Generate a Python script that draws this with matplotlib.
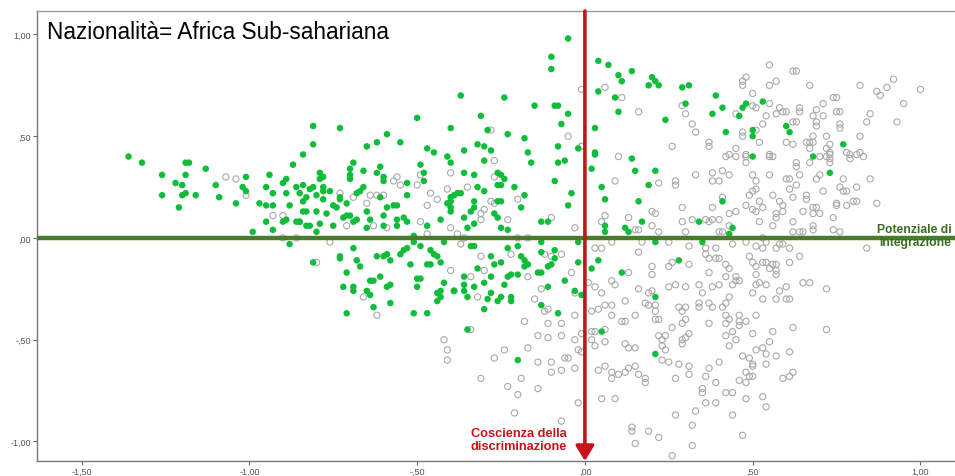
import numpy as np
import matplotlib
matplotlib.use("Agg")
import matplotlib.pyplot as plt
from matplotlib.ticker import FuncFormatter

plt.rcParams['font.family'] = ['Liberation Sans', 'DejaVu Sans']

title = "Nazionalità= Africa Sub-sahariana"
label_x = "Coscienza della\ndiscriminazione"
label_y = "Potenziale di\nIntegrazione"

x_ticks = [-1.5, -1.0, -0.5, 0.0, 0.5, 1.0]
y_ticks = [-1.0, -0.5, 0.0, 0.5, 1.0]

# punti verdi (Africa Sub-sahariana), sopra la linea
green_top = [
    (-1.36, 0.40), (-1.32, 0.37), (-1.19, 0.37), (-1.18, 0.37), (-1.26, 0.31), (-1.19, 0.31),
    (-1.13, 0.34), (-1.22, 0.27), (-1.20, 0.26), (-1.26, 0.21), (-1.20, 0.21), (-1.19, 0.22),
    (-1.16, 0.21), (-1.21, 0.15), (-1.10, 0.26), (-1.09, 0.20), (-1.01, 0.30), (-1.02, 0.25),
    (-1.01, 0.23), (-1.04, 0.17), (-0.97, 0.17), (-0.95, 0.16), (-0.93, 0.16), (-0.94, 0.31),
    (-0.95, 0.25), (-0.93, 0.22), (-0.90, 0.27), (-0.89, 0.29), (-0.87, 0.36), (-0.84, 0.41),
    (-0.89, 0.22), (-0.88, 0.16), (-0.86, 0.25), (-0.84, 0.26), (-0.85, 0.22), (-0.82, 0.24),
    (-0.83, 0.20), (-0.84, 0.18), (-0.84, 0.13), (-0.83, 0.13), (-0.95, 0.08), (-0.93, 0.04),
    (-0.90, 0.08), (-0.89, 0.09), (-0.86, 0.08), (-0.85, 0.08), (-0.83, 0.06), (-0.82, 0.06),
    (-0.99, 0.03), (-0.80, 0.21), (-0.80, 0.13), (-0.80, 0.03), (-0.81, 0.55), (-0.81, 0.46),
    (-0.05, 0.98), (-0.10, 0.89), (-0.10, 0.83), (-0.37, 0.70), (-0.24, 0.69), (-0.15, 0.65),
    (-0.09, 0.65), (-0.08, 0.65), (-0.05, 0.61), (-0.31, 0.60), (-0.50, 0.59), (-0.73, 0.54),
    (-0.40, 0.54), (-0.29, 0.53), (-0.07, 0.56), (-0.59, 0.51), (-0.62, 0.47), (-0.65, 0.45),
    (-0.55, 0.47), (-0.47, 0.44), (-0.45, 0.42), (-0.32, 0.46), (-0.30, 0.45), (-0.28, 0.43),
    (-0.23, 0.51), (-0.18, 0.49), (-0.17, 0.42), (-0.08, 0.45), (-0.02, 0.44), (-0.36, 0.43),
    (-0.41, 0.40), (0.04, 0.87), (0.07, 0.85), (0.10, 0.80), (0.04, 0.72), (0.09, 0.69),
    (0.10, 0.62), (0.03, 0.54), (0.03, 0.42), (0.11, 0.77), (0.14, 0.82), (0.20, 0.79),
    (0.21, 0.77), (0.22, 0.75), (0.19, 0.75), (0.29, 0.74), (0.31, 0.75), (0.30, 0.66),
    (0.24, 0.58), (0.39, 0.70), (0.41, 0.64), (0.38, 0.61), (0.42, 0.52), (0.47, 0.64),
    (0.48, 0.66), (0.46, 0.60), (0.53, 0.67), (0.50, 0.53), (0.50, 0.50), (0.50, 0.40),
    (0.60, 0.55), (0.61, 0.52), (0.77, 0.46), (0.68, 0.40), (0.14, 0.39), (0.15, 0.33),
    (0.21, 0.33), (0.19, 0.26), (0.16, 0.18), (0.17, 0.08), (0.12, 0.05), (0.13, 0.03),
    (0.34, 0.08), (0.41, 0.18), (0.44, 0.05), (0.43, 0.02), (0.73, 0.32),
    (-0.40, 0.37), (-0.30, 0.38), (-0.16, 0.37), (-0.08, 0.37), (-0.06, 0.38), (0.03, 0.41),
    (0.02, 0.34), (-0.69, 0.37), (-0.70, 0.34), (-0.61, 0.35), (-0.62, 0.32), (-0.66, 0.33),
    (-0.79, 0.32), (-0.49, 0.36), (-0.48, 0.32), (-0.36, 0.32), (-0.33, 0.31), (-0.26, 0.32),
    (-0.25, 0.31), (-0.24, 0.29), (-0.09, 0.28), (-0.79, 0.29), (-0.78, 0.30), (-0.81, 0.25),
    (-0.78, 0.25), (-0.78, 0.23), (-0.76, 0.23), (-0.78, 0.19), (-0.70, 0.31), (-0.70, 0.29),
    (-0.66, 0.25), (-0.67, 0.23), (-0.68, 0.22), (-0.60, 0.30), (-0.60, 0.28), (-0.61, 0.20),
    (-0.73, 0.20), (-0.73, 0.19), (-0.75, 0.16), (-0.74, 0.15), (-0.71, 0.17), (-0.53, 0.27),
    (-0.53, 0.21), (-0.48, 0.28), (-0.39, 0.21), (-0.38, 0.22), (-0.37, 0.22), (-0.40, 0.20),
    (-0.40, 0.18), (-0.41, 0.17), (-0.32, 0.25), (-0.30, 0.23), (-0.26, 0.26), (-0.25, 0.26),
    (-0.21, 0.25), (-0.18, 0.21), (-0.19, 0.15), (-0.33, 0.18), (-0.33, 0.15), (-0.26, 0.18),
    (-0.25, 0.18), (-0.43, 0.09), (-0.05, 0.16), (-0.04, 0.22), (0.05, 0.25), (0.06, 0.19),
    (-0.77, 0.12), (-0.85, 0.08), (-0.79, 0.07), (-0.75, 0.06), (-0.72, 0.10), (-0.71, 0.11),
    (-0.70, 0.11), (-0.68, 0.09), (-0.69, 0.08), (-0.65, 0.13), (-0.64, 0.09), (-0.65, 0.05),
    (-0.60, 0.11), (-0.60, 0.06), (-0.59, 0.15), (-0.56, 0.16), (-0.57, 0.16), (-0.56, 0.09),
    (-0.56, 0.06), (-0.54, 0.10), (-0.53, 0.08), (-0.47, 0.06), (-0.40, 0.15), (-0.40, 0.13),
    (-0.36, 0.10), (-0.35, 0.05), (-0.34, 0.13), (-0.33, 0.07), (-0.27, 0.12), (-0.26, 0.10),
    (-0.25, 0.05), (-0.23, 0.04), (-0.13, 0.08), (-0.11, 0.08), (0.06, 0.06), (0.06, 0.03),
    (-0.51, 0.01),
]

# punti verdi sotto la linea
green_bottom = [
    (-0.88, -0.03), (-0.81, -0.12), (0.21, -0.02), (0.35, -0.02), (0.28, -0.11), (0.11, -0.17),
    (0.21, -0.29), (0.21, -0.57), (0.05, -0.46), (-0.35, -0.45), (-0.20, -0.60),
    (-0.51, -0.02), (-0.42, -0.02), (-0.34, -0.04), (-0.33, -0.04), (-0.23, -0.05), (-0.20, -0.04),
    (-0.13, -0.02), (-0.09, -0.06), (-0.02, -0.02), (-0.73, -0.09), (-0.73, -0.10), (-0.69, -0.05),
    (-0.68, -0.11), (-0.67, -0.14), (-0.62, -0.09), (-0.59, -0.08), (-0.60, -0.09), (-0.58, -0.11),
    (-0.55, -0.08), (-0.54, -0.06), (-0.53, -0.05), (-0.52, -0.13), (-0.49, -0.04), (-0.46, -0.06),
    (-0.45, -0.08), (-0.44, -0.09), (-0.46, -0.13), (-0.47, -0.13), (-0.43, -0.12), (-0.32, -0.15),
    (-0.28, -0.09), (-0.27, -0.13), (-0.25, -0.12), (-0.19, -0.09), (-0.18, -0.11), (-0.17, -0.13),
    (-0.18, -0.14), (-0.13, -0.07), (-0.11, -0.14), (-0.10, -0.13), (-0.09, -0.10), (-0.02, -0.12),
    (0.02, -0.15), (0.04, -0.11), (-0.71, -0.17), (-0.72, -0.24), (-0.69, -0.24), (-0.69, -0.26),
    (-0.64, -0.21), (-0.63, -0.21), (-0.61, -0.19), (-0.65, -0.26), (-0.64, -0.28), (-0.59, -0.24),
    (-0.58, -0.23), (-0.63, -0.34), (-0.58, -0.32), (-0.71, -0.37), (-0.50, -0.20), (-0.49, -0.20),
    (-0.50, -0.24), (-0.44, -0.27), (-0.43, -0.26), (-0.42, -0.22), (-0.43, -0.29), (-0.44, -0.31),
    (-0.39, -0.26), (-0.36, -0.19), (-0.36, -0.23), (-0.36, -0.26), (-0.35, -0.29), (-0.33, -0.24),
    (-0.30, -0.22), (-0.28, -0.19), (-0.28, -0.27), (-0.29, -0.30), (-0.25, -0.29), (-0.26, -0.31),
    (-0.24, -0.23), (-0.23, -0.19), (-0.22, -0.18), (-0.22, -0.29), (-0.22, -0.31), (-0.20, -0.18),
    (-0.14, -0.17), (-0.13, -0.17), (-0.11, -0.24), (-0.06, -0.21), (-0.03, -0.26), (-0.01, -0.28),
    (-0.13, -0.33), (-0.08, -0.37), (-0.30, -0.35), (-0.51, -0.37), (-0.47, -0.37),
]

# cerchi grigi (altre nazionalità), parte alta
grey_top = [
    (-1.07, 0.30), (-1.04, 0.29), (-1.01, 0.21), (-0.93, 0.11), (-0.90, 0.11), (-0.90, 0.00),
    (-0.86, 0.00), (-0.01, 0.73), (0.06, 0.74), (-0.05, 0.50), (-0.28, 0.53), (-0.01, 0.45),
    (0.10, 0.40), (0.11, 0.69), (0.16, 0.62), (0.29, 0.65), (0.30, 0.61), (0.32, 0.56),
    (0.33, 0.52), (0.26, 0.45), (0.37, 0.47), (0.37, 0.45), (0.47, 0.77), (0.48, 0.79),
    (0.47, 0.75), (0.50, 0.71), (0.51, 0.64), (0.50, 0.65), (0.45, 0.61), (0.54, 0.60),
    (0.53, 0.56), (0.51, 0.53), (0.52, 0.47), (0.47, 0.52), (0.47, 0.50), (0.45, 0.44),
    (0.55, 0.85), (0.57, 0.77), (0.55, 0.75), (0.55, 0.66), (0.58, 0.64), (0.59, 0.62),
    (0.60, 0.62), (0.57, 0.61), (0.62, 0.82), (0.63, 0.82), (0.67, 0.75), (0.64, 0.64),
    (0.64, 0.62), (0.62, 0.57), (0.63, 0.57), (0.60, 0.47), (0.62, 0.46), (0.69, 0.63),
    (0.71, 0.66), (0.68, 0.60), (0.71, 0.60), (0.69, 0.57), (0.69, 0.55), (0.68, 0.50),
    (0.67, 0.47), (0.68, 0.47), (0.66, 0.47), (0.67, 0.44), (0.72, 0.50), (0.73, 0.46),
    (0.72, 0.44), (0.73, 0.42), (0.74, 0.69), (0.75, 0.69), (0.75, 0.62), (0.76, 0.62),
    (0.76, 0.56), (0.76, 0.54), (0.78, 0.42), (0.82, 0.75), (0.82, 0.50), (0.82, 0.42),
    (0.83, 0.40), (0.84, 0.57), (0.85, 0.61), (0.87, 0.72), (0.88, 0.70), (0.90, 0.74),
    (0.92, 0.78), (0.93, 0.57), (0.95, 0.66), (1.00, 0.73), (0.70, 0.40), (0.72, 0.40),
    (0.73, 0.41), (0.42, 0.40), (0.45, 0.40), (0.48, 0.40), (0.55, 0.40),
    (0.13, 0.10), (0.15, 0.04), (0.16, 0.04), (0.20, 0.13), (0.21, 0.12), (0.20, 0.06),
    (0.22, 0.03), (0.22, 0.27), (0.27, 0.28), (0.27, 0.26), (0.29, 0.15), (0.29, 0.08),
    (0.30, 0.03), (0.33, 0.31), (0.32, 0.09), (0.36, 0.09), (0.37, 0.08), (0.38, 0.32),
    (0.38, 0.28), (0.40, 0.28), (0.38, 0.15), (0.38, 0.09), (0.40, 0.09), (0.41, 0.33),
    (0.43, 0.31), (0.41, 0.20), (0.45, 0.13), (0.43, 0.12), (0.40, 0.03), (0.41, 0.03),
    (0.43, 0.06), (0.48, 0.41), (0.48, 0.37), (0.43, 0.41), (0.50, 0.31), (0.51, 0.28),
    (0.50, 0.23), (0.51, 0.24), (0.49, 0.21), (0.52, 0.18), (0.48, 0.16), (0.50, 0.14),
    (0.51, 0.13), (0.52, 0.08), (0.53, 0.00), (0.55, 0.31), (0.56, 0.21), (0.55, 0.41),
    (0.56, 0.40), (0.53, 0.15), (0.56, 0.06), (0.57, 0.12), (0.57, 0.10), (0.58, 0.18),
    (0.59, 0.16), (0.59, 0.13), (0.60, 0.29), (0.61, 0.29), (0.61, 0.24), (0.62, 0.20),
    (0.62, 0.08), (0.62, 0.03), (0.64, 0.03), (0.65, 0.03), (0.64, 0.31), (0.63, 0.37),
    (0.63, 0.35), (0.63, 0.26), (0.65, 0.13), (0.66, 0.21), (0.66, 0.19), (0.67, 0.37),
    (0.68, 0.15), (0.69, 0.15), (0.68, 0.12), (0.70, 0.12), (0.68, 0.06), (0.68, 0.04),
    (0.69, 0.29), (0.70, 0.31), (0.71, 0.23), (0.74, 0.10), (0.74, 0.04), (0.76, 0.03),
    (0.75, 0.17), (0.75, 0.16), (0.76, 0.25), (0.77, 0.23), (0.78, 0.23), (0.78, 0.16),
    (0.80, 0.18), (0.81, 0.18), (0.77, 0.29), (0.79, 0.39), (0.79, 0.41), (0.81, 0.41),
    (0.81, 0.25), (0.85, 0.29), (0.87, 0.17), (0.73, 0.39), (0.73, 0.37),
    (-0.27, 0.38), (-0.40, 0.32), (-0.27, 0.30), (-0.56, 0.30), (-0.57, 0.28), (-0.55, 0.26),
    (-0.64, 0.21), (-0.62, 0.21), (-0.60, 0.21), (-0.65, 0.17), (-0.73, 0.22), (-0.69, 0.20),
    (-0.50, 0.26), (-0.46, 0.22), (-0.49, 0.31), (-0.41, 0.24), (-0.35, 0.25), (-0.20, 0.19),
    (-0.28, 0.18), (-0.27, 0.17), (-0.47, 0.16), (-0.44, 0.19), (-0.71, 0.06), (-0.63, 0.06),
    (-0.59, 0.05), (-0.49, 0.08), (-0.31, 0.12), (-0.30, 0.14), (-0.31, 0.09), (-0.23, 0.09),
    (-0.10, 0.10), (-0.03, 0.05), (0.05, 0.08), (0.06, 0.11), (0.09, 0.28), (-0.40, 0.05),
    (-0.38, 0.02), (-0.36, 0.00), (-0.47, 0.02), (-0.20, 0.00), (-0.17, 0.00), (-0.01, 0.45),
]

# cerchi grigi, parte bassa
grey_bottom = [
    (-0.80, -0.12), (0.17, -0.02), (0.16, -0.07), (0.20, -0.14), (0.25, -0.02), (0.26, -0.12),
    (0.25, -0.14), (0.31, -0.04), (0.31, -0.13), (0.36, -0.05), (0.36, -0.08), (0.37, -0.10),
    (0.39, -0.05), (0.40, -0.10), (0.39, -0.10), (0.37, -0.17), (0.44, -0.03), (0.42, -0.13),
    (0.43, -0.15), (0.42, -0.19), (0.45, -0.19), (0.48, -0.02), (0.51, -0.04), (0.49, -0.09),
    (0.50, -0.12), (0.51, -0.14), (0.53, -0.05), (0.54, -0.02), (0.53, -0.12), (0.54, -0.12),
    (0.56, -0.13), (0.57, -0.13), (0.57, -0.16), (0.57, -0.18), (0.58, -0.03), (0.59, -0.03),
    (0.57, -0.05), (0.61, -0.05), (0.61, -0.12), (0.64, -0.09), (0.84, -0.05), (0.65, -0.22),
    (0.67, -0.22), (0.72, -0.25), (0.60, -0.24), (0.57, -0.30), (0.58, -0.26), (0.60, -0.30),
    (0.61, -0.30), (0.54, -0.23), (0.52, -0.22), (0.51, -0.23), (0.53, -0.30), (0.50, -0.27),
    (0.55, -0.15), (0.51, -0.18), (0.45, -0.21), (0.44, -0.23), (0.46, -0.21), (0.43, -0.29),
    (0.42, -0.32), (0.41, -0.34), (0.40, -0.23), (0.38, -0.24), (0.34, -0.23), (0.35, -0.27),
    (0.34, -0.32), (0.34, -0.34), (0.30, -0.24), (0.27, -0.23), (0.25, -0.24), (0.28, -0.34),
    (0.29, -0.36), (0.37, -0.32), (0.38, -0.34), (0.20, -0.18), (0.16, -0.25), (0.19, -0.27),
    (0.20, -0.26), (0.18, -0.32), (0.19, -0.33), (0.21, -0.33), (0.12, -0.31), (0.13, -0.17),
    (0.15, -0.38), (0.21, -0.36), (0.30, -0.34), (0.46, -0.38), (0.51, -0.38), (0.42, -0.38),
    (0.12, -0.41), (0.11, -0.41), (0.21, -0.40), (0.22, -0.40), (0.26, -0.44), (0.29, -0.42),
    (0.30, -0.40), (0.22, -0.48), (0.24, -0.48), (0.23, -0.50), (0.23, -0.53), (0.24, -0.55),
    (0.29, -0.50), (0.30, -0.49), (0.31, -0.47), (0.29, -0.52), (0.12, -0.52), (0.13, -0.54),
    (0.15, -0.54), (0.23, -0.60), (0.25, -0.61), (0.28, -0.62), (0.31, -0.63), (0.31, -0.67),
    (0.27, -0.69), (0.18, -0.69), (0.18, -0.71), (0.16, -0.67), (0.10, -0.67), (0.12, -0.66),
    (0.13, -0.64), (0.15, -0.63), (0.37, -0.42), (0.42, -0.42), (0.43, -0.40), (0.46, -0.41),
    (0.46, -0.43), (0.48, -0.41), (0.42, -0.48), (0.44, -0.46), (0.45, -0.50), (0.43, -0.53),
    (0.50, -0.47), (0.56, -0.46), (0.62, -0.44), (0.72, -0.45), (0.55, -0.51), (0.53, -0.54),
    (0.51, -0.55), (0.54, -0.57), (0.57, -0.58), (0.61, -0.56), (0.47, -0.58), (0.49, -0.59),
    (0.40, -0.61), (0.37, -0.64), (0.36, -0.68), (0.39, -0.71), (0.35, -0.74), (0.35, -0.76),
    (0.36, -0.81), (0.39, -0.81), (0.33, -0.85), (0.27, -0.87), (0.42, -0.76), (0.44, -0.76),
    (0.44, -0.87), (0.50, -0.62), (0.50, -0.63), (0.48, -0.66), (0.49, -0.68), (0.50, -0.68),
    (0.46, -0.70), (0.48, -0.71), (0.54, -0.62), (0.59, -0.69), (0.61, -0.68), (0.62, -0.66),
    (0.48, -0.79), (0.53, -0.78), (0.54, -0.83), (0.47, -0.97), (0.32, -0.92), (0.32, -1.02),
    (0.26, -1.07), (0.14, -0.93), (0.14, -0.95), (0.19, -0.95), (0.22, -0.98), (0.15, -1.01),
    (-0.34, -0.45), (-0.42, -0.50), (-0.41, -0.55), (-0.41, -0.60), (-0.31, -0.69), (-0.27, -0.59),
    (-0.24, -0.55), (-0.23, -0.73), (-0.20, -0.77), (-0.21, -0.86), (-0.19, -0.69), (-0.17, -0.54),
    (-0.18, -0.41), (-0.14, -0.48), (-0.11, -0.49), (-0.07, -0.48), (-0.11, -0.42), (-0.07, -0.42),
    (-0.14, -0.61), (-0.10, -0.61), (-0.10, -0.66), (-0.07, -0.65), (-0.14, -0.74), (-0.06, -0.59),
    (-0.05, -0.59), (-0.03, -0.50), (-0.02, -0.55), (-0.01, -0.56), (-0.03, -0.64), (-0.02, -0.81),
    (-0.07, -0.90), (-0.01, -0.47), (0.02, -0.46), (0.03, -0.46), (0.02, -0.50), (0.03, -0.53),
    (0.06, -0.45), (0.06, -0.51), (0.04, -0.65), (0.06, -0.63), (0.08, -0.66), (0.08, -0.69),
    (0.05, -0.79), (0.09, -0.79), (-0.76, -0.02), (-0.37, -0.03), (-0.31, -0.09), (-0.40, -0.16),
    (-0.30, -0.16), (-0.22, -0.08), (-0.12, -0.08), (-0.10, -0.09), (-0.07, -0.08), (0.03, -0.05),
    (0.05, -0.05), (0.08, -0.02), (-0.66, -0.29), (-0.62, -0.38), (-0.34, -0.19), (-0.32, -0.29),
    (-0.17, -0.19), (-0.15, -0.30), (-0.04, -0.17), (-0.11, -0.35), (-0.12, -0.36), (-0.03, -0.38),
    (0.02, -0.36), (0.04, -0.35), (0.06, -0.33), (0.08, -0.33), (0.08, -0.38), (0.01, -0.22),
    (0.03, -0.24), (0.08, -0.21), (0.09, -0.23), (0.05, -0.27), (-0.03, -0.27), (-0.39, -0.26),
    (-0.13, -0.25),
]


def fmt_tick(v, pos):
    s = f"{v:.2f}".replace('.', ',')
    if abs(v) < 1:
        s = s.replace('0,', ',', 1)
    return s


green = np.array(green_top + green_bottom)
grey = np.array(grey_top + grey_bottom)

fig = plt.figure(figsize=(9.55, 4.77), dpi=100)
ax = fig.add_axes([0.0387, 0.0314, 0.9613, 0.9434])

ax.scatter(grey[:, 0], grey[:, 1], s=20, facecolors='none', edgecolors='#a9a9a9',
           linewidths=0.8, zorder=2)
ax.scatter(green[:, 0], green[:, 1], s=22, color='#10bd3b', edgecolors='none', zorder=3)

ax.set_xlim(-1.633, 1.103)
ax.set_ylim(-1.096, 1.115)

# assi di riferimento
ax.axhline(0, color='#4a7a2c', lw=3.2, zorder=4)
ax.annotate('', xy=(0, -1.096), xytext=(0, 1.115),
            arrowprops=dict(arrowstyle='-|>,head_width=0.55,head_length=0.9',
                            color='#c8121c', lw=2.6, shrinkA=0, shrinkB=0), zorder=5)

ax.text(0.011, 0.955, title, transform=ax.transAxes, fontsize=16.3, va='center', ha='left')
ax.text(-0.053, -0.99, label_x, color='#c8121c', fontsize=9.2, fontweight='bold',
        ha='right', va='center', multialignment='center', linespacing=1.05, zorder=6)
ax.text(0.872, 0.012, label_y, color='#3e6b22', fontsize=8.7, fontweight='bold',
        ha='left', va='center', multialignment='center', linespacing=1.05, zorder=6)

ax.set_xticks(x_ticks)
ax.set_yticks(y_ticks)
ax.xaxis.set_major_formatter(FuncFormatter(fmt_tick))
ax.yaxis.set_major_formatter(FuncFormatter(fmt_tick))
ax.tick_params(direction='out', length=3, width=0.8, colors='#666666', labelsize=6.5,
               labelcolor='#555555', pad=1.5)

for side in ['left', 'bottom', 'top']:
    ax.spines[side].set_color('#777777')
    ax.spines[side].set_linewidth(1.0)
ax.spines['top'].set_color('#999999')
ax.spines['right'].set_visible(False)

fig.savefig('out.png', dpi=100)
